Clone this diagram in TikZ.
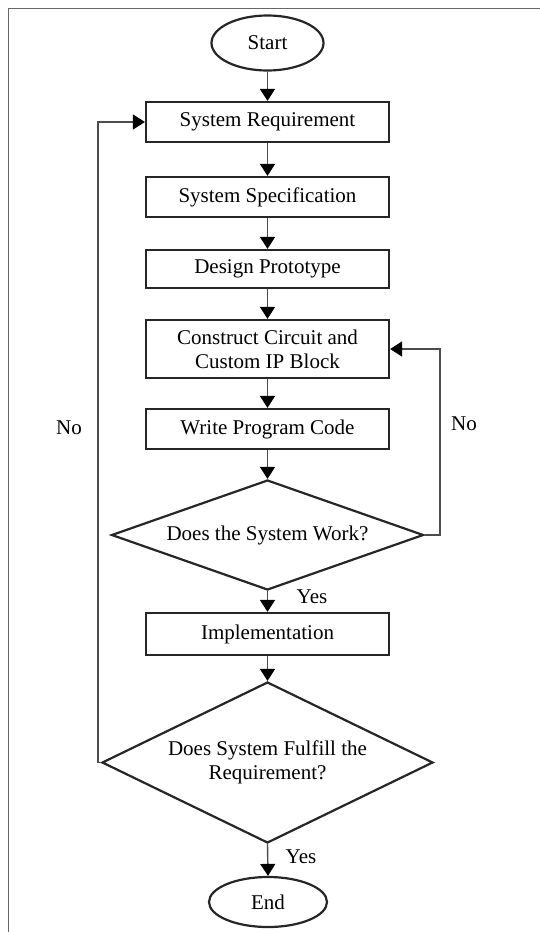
\documentclass[tikz,border=0pt]{standalone}
\usepackage{fontspec}
\setmainfont{Liberation Serif}
\usetikzlibrary{shapes.geometric,arrows.meta}
\begin{document}
\begin{tikzpicture}[x=1pt,y=-1pt,
 every node/.style={font=\fontsize{21}{24}\selectfont, text=black},
 box/.style={draw=black!85, line width=2.2pt, minimum width=243pt, inner sep=0pt, align=center},
 term/.style={draw=black!85, line width=2.2pt, ellipse, inner sep=0pt},
 dec/.style={draw=black!85, line width=2.2pt, diamond, inner sep=0pt, align=center},
 conn/.style={draw=black!70, line width=1.4pt},
 arr/.style={conn, -{Triangle[width=15pt,length=12pt,color=black]}},
 lab/.style={inner sep=0pt}]
\useasboundingbox (0,0) rectangle (540,932);
\draw[black!60, line width=1.2pt] (8.5,932) -- (8.5,8.5) -- (540,8.5);

\node[term, minimum width=112pt, minimum height=55pt] (start) at (267.5,43) {Start};
\node[box, minimum height=40pt] (b1) at (267.5,122) {System Requirement};
\node[box, minimum height=40pt] (b2) at (267.5,197) {System Specification};
\node[box, minimum height=38pt] (b3) at (267.5,269) {Design Prototype};
\node[box, minimum height=58pt] (b4) at (267.5,349) {Construct Circuit and\\Custom IP Block};
\node[box, minimum height=40pt] (b5) at (267.5,429) {Write Program Code};
\node[dec, aspect=2.836, minimum width=312pt, minimum height=110pt] (d1) at (267.5,535) {Does the System Work?};
\node[box, minimum height=42pt] (b6) at (267.5,634) {Implementation};
\node[dec, aspect=2.056, minimum width=331pt, minimum height=161pt] (d2) at (267.5,762.5) {Does System Fulfill the\\Requirement?};
\node[term, minimum width=118pt, minimum height=50pt] (end) at (268,902) {End};

\node[lab] (no1) at (69,428) {No};
\node[lab] (no2) at (464,424) {No};
\node[lab] (yes1) at (312,597) {Yes};
\node[lab] (yes2) at (301,857) {Yes};

\coordinate (L) at (98,762.5);
\coordinate (R) at (440,535);

\draw[arr] (start.south) -- (b1.north);
\draw[arr] (b1.south) -- (b2.north);
\draw[arr] (b2.south) -- (b3.north);
\draw[arr] (b3.south) -- (b4.north);
\draw[arr] (b4.south) -- (b5.north);
\draw[arr] (b5.south) -- (d1.north);
\draw[arr] (d1.south) -- (b6.north);
\draw[arr] (b6.south) -- (d2.north);
\draw[arr] (d2.south) -- (end.north);
\draw[arr] (d1.east) -- (R) |- (b4.east);
\draw[arr] (d2.west) -- (L) |- (b1.west);
\end{tikzpicture}
\end{document}
